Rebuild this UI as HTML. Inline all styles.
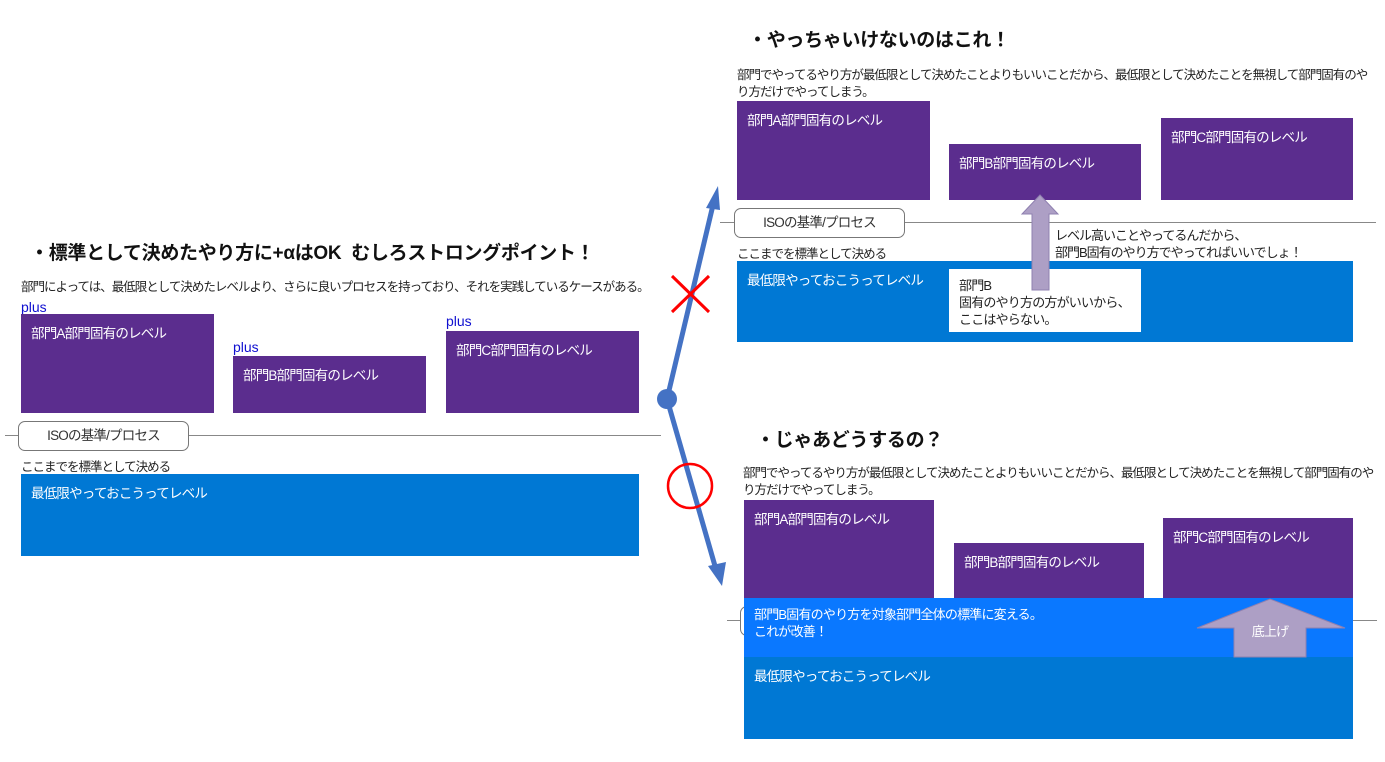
<!DOCTYPE html>
<html><head><meta charset="utf-8"><style>
body{margin:0;width:1385px;height:762px;background:#fff;position:relative;overflow:hidden;font-family:"Liberation Sans","Noto Sans CJK JP",sans-serif;color:#222;letter-spacing:-0.8px}
.a{position:absolute;white-space:nowrap}
.p{position:absolute;background:#5b2d8e;color:#fff;font-size:13.5px;box-sizing:border-box;padding:8px 10px}
.b{position:absolute;background:#0078d4;color:#fff;font-size:13.5px;box-sizing:border-box;padding:8px 10px}
.lb{position:absolute;background:#fff;border:1px solid #777;border-radius:7px;font-size:13.5px;text-align:center;box-sizing:border-box;line-height:27px;color:#333}
.hl{position:absolute;height:1px;background:#888}
.t{font-size:19px;font-weight:bold;color:#111;letter-spacing:-0.3px}
.s{font-size:12.5px;color:#222;letter-spacing:-1px}
.pl{font-size:14px;color:#1010d0;letter-spacing:0}
</style></head><body>
<div class="a t" style="left:30px;top:238px">・標準として決めたやり方に+αはOK&nbsp;&nbsp;むしろストロングポイント！</div>
<div class="a s" style="left:21px;top:276px">部門によっては、最低限として決めたレベルより、さらに良いプロセスを持っており、それを実践しているケースがある。</div>
<div class="a pl" style="left:21px;top:299px">plus</div>
<div class="a pl" style="left:233px;top:339px">plus</div>
<div class="a pl" style="left:446px;top:313px">plus</div>
<div class="p" style="left:21px;top:314px;width:193px;height:99px">部門A部門固有のレベル</div>
<div class="p" style="left:233px;top:356px;width:193px;height:57px">部門B部門固有のレベル</div>
<div class="p" style="left:446px;top:331px;width:193px;height:82px">部門C部門固有のレベル</div>
<div class="hl" style="left:5px;top:435px;width:656px"></div>
<div class="lb" style="left:18px;top:421px;width:171px;height:30px">ISOの基準/プロセス</div>
<div class="a s" style="left:21px;top:456px">ここまでを標準として決める</div>
<div class="b" style="left:21px;top:474px;width:618px;height:82px">最低限やっておこうってレベル</div>

<div class="a t" style="left:748px;top:25px">・やっちゃいけないのはこれ！</div>
<div class="a s" style="left:737px;top:64px">部門でやってるやり方が最低限として決めたことよりもいいことだから、最低限として決めたことを無視して部門固有のや</div>
<div class="a s" style="left:737px;top:81px">り方だけでやってしまう。</div>
<div class="p" style="left:737px;top:101px;width:193px;height:99px">部門A部門固有のレベル</div>
<div class="p" style="left:949px;top:144px;width:192px;height:56px">部門B部門固有のレベル</div>
<div class="p" style="left:1161px;top:118px;width:192px;height:82px">部門C部門固有のレベル</div>
<div class="hl" style="left:720px;top:222px;width:656px"></div>
<div class="lb" style="left:734px;top:208px;width:171px;height:30px">ISOの基準/プロセス</div>
<div class="a s" style="left:737px;top:243px">ここまでを標準として決める</div>
<div class="b" style="left:737px;top:261px;width:616px;height:81px">最低限やっておこうってレベル</div>
<div class="a" style="left:949px;top:269px;width:192px;height:63px;background:#fff;font-size:13px;line-height:17px;padding:8px 10px;box-sizing:border-box;color:#222">部門B<br>固有のやり方の方がいいから、<br>ここはやらない。</div>
<div class="a s" style="left:1055px;top:227px;line-height:17px;font-size:13px">レベル高いことやってるんだから、<br>部門B固有のやり方でやってればいいでしょ！</div>

<div class="a t" style="left:756px;top:425px">・じゃあどうするの？</div>
<div class="a s" style="left:743px;top:462px">部門でやってるやり方が最低限として決めたことよりもいいことだから、最低限として決めたことを無視して部門固有のや</div>
<div class="a s" style="left:743px;top:479px">り方だけでやってしまう。</div>
<div class="p" style="left:744px;top:500px;width:190px;height:98px">部門A部門固有のレベル</div>
<div class="p" style="left:954px;top:543px;width:190px;height:55px">部門B部門固有のレベル</div>
<div class="p" style="left:1163px;top:518px;width:190px;height:80px">部門C部門固有のレベル</div>
<div class="hl" style="left:727px;top:620px;width:650px"></div>
<div class="lb" style="left:740px;top:606px;width:40px;height:30px"></div>
<div class="a" style="left:744px;top:598px;width:609px;height:59px;background:#0a78ff;color:#fff;font-size:13px;line-height:17px;padding:8px 10px;box-sizing:border-box">部門B固有のやり方を対象部門全体の標準に変える。<br>これが改善！</div>
<div class="b" style="left:744px;top:657px;width:609px;height:82px">最低限やっておこうってレベル</div>

<svg class="a" style="left:0;top:0" width="1385" height="762">
<polygon points="1032,290 1049,290 1049,214 1058,214 1040,195 1022,214 1032,214" fill="#ad9fc5" stroke="#8f80b0"/>
<polygon points="1234,657 1306,657 1306,628 1345,628 1270,599 1197,628 1234,628" fill="#ad9fc5" stroke="#8f80b0"/>
<text x="1270" y="636" font-size="13" fill="#fff" text-anchor="middle" font-family="Liberation Sans,Noto Sans CJK JP,sans-serif">底上げ</text>
<line x1="667" y1="399" x2="713" y2="205" stroke="#4472c4" stroke-width="5"/>
<polygon points="718,186 706,208 720,210" fill="#4472c4"/>
<line x1="667" y1="399" x2="715" y2="566" stroke="#4472c4" stroke-width="5"/>
<polygon points="722,586 708,566 726,562" fill="#4472c4"/>
<circle cx="667" cy="399" r="10" fill="#4472c4"/>
<line x1="672" y1="276" x2="709" y2="312" stroke="#f00" stroke-width="3"/>
<line x1="709" y1="276" x2="672" y2="312" stroke="#f00" stroke-width="3"/>
<circle cx="690" cy="486" r="22" fill="none" stroke="#f00" stroke-width="2.5"/>
</svg>
</body></html>
